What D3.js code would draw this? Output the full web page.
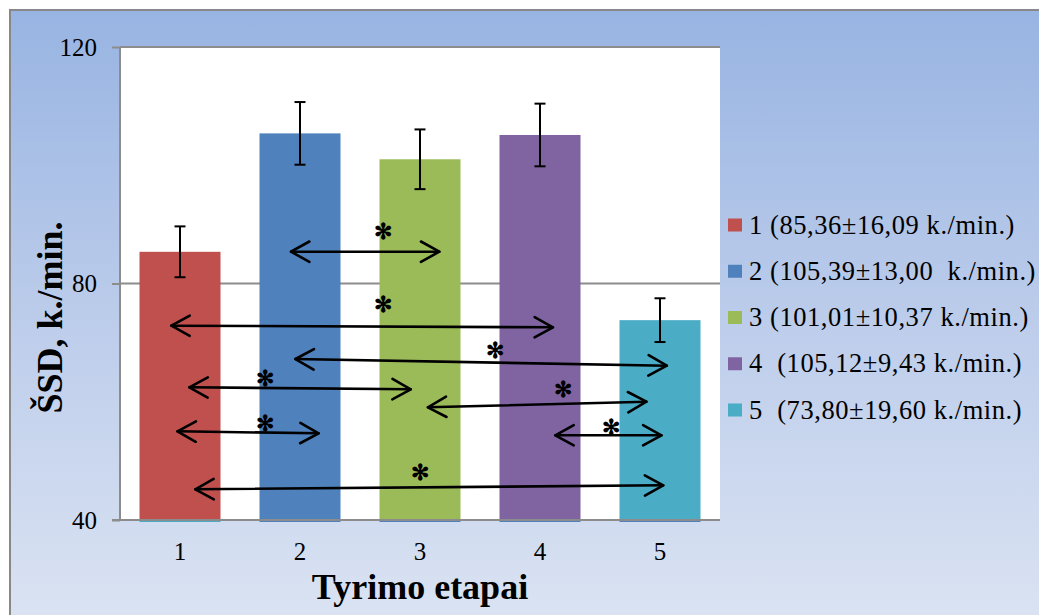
<!DOCTYPE html>
<html>
<head>
<meta charset="utf-8">
<script src="https://cdn.jsdelivr.net/npm/d3@7"></script>
<style>
  html, body { margin: 0; padding: 0; background: #ffffff; }
  svg { display: block; }
  text { font-family: "Liberation Serif", "Times New Roman", serif; white-space: pre; }
</style>
</head>
<body>
<svg id="chart" width="1039" height="615"></svg>
<script>
// ---- data ----
const categories = ["1", "2", "3", "4", "5"];
const values = [85.36, 105.39, 101.01, 105.12, 73.80];
const errors = [4.3, 5.3, 5.05, 5.3, 3.7];
const legendLabels = [
  "1 (85,36±16,09 k./min.)",
  "2 (105,39±13,00  k./min.)",
  "3 (101,01±10,37 k./min.)",
  "4  (105,12±9,43 k./min.)",
  "5  (73,80±19,60 k./min.)"
];
const yTicks = [40, 80, 120];
const yTitle = "ŠSD, k./min.";
const xTitle = "Tyrimo etapai";
// significance arrows: [x1 (category units), y1 (value), x2, y2]
const arrows = [
  [1.925, 85.38, 3.161, 85.38],
  [0.928, 72.86, 4.108, 72.59],
  [1.962, 67.23, 5.057, 66.10],
  [1.078, 62.44, 2.923, 62.11],
  [3.066, 59.06, 4.887, 60.01],
  [0.979, 55.00, 2.155, 54.66],
  [4.128, 54.33, 5.012, 54.33],
  [1.128, 45.19, 5.027, 45.87]
];
// asterisk marks: [x (category units), y (value)]
const stars = [
  [2.688, 88.93],
  [2.693, 76.53],
  [3.625, 68.75],
  [1.708, 63.97],
  [4.193, 62.11],
  [1.708, 56.36],
  [4.589, 55.68],
  [3.000, 48.17]
];
const colors = ["#c0504d", "#4f81bd", "#9bbb59", "#8064a2", "#4bacc6"];
const baseStripColors = ["#4bacc6", "#4f81bd", "#4f81bd", "#4f81bd", "#4f81bd"];

// ---- layout ----
const svg = d3.select("#chart");
const W = 1039, H = 615;
const plot = { left: 120, right: 720, top: 47, bottom: 520 };
const gridColor = "#8c8c8c";
const serif = "Liberation Serif, Times New Roman, serif";

// background frame with gradient
const defs = svg.append("defs");
const grad = defs.append("linearGradient").attr("id", "bg").attr("x1", 0).attr("y1", 0).attr("x2", 0).attr("y2", 1);
grad.append("stop").attr("offset", "0%").attr("stop-color", "#98b4e2");
grad.append("stop").attr("offset", "50%").attr("stop-color", "#bdcdeb");
grad.append("stop").attr("offset", "100%").attr("stop-color", "#dde5f3");

svg.append("rect").attr("x", 10).attr("y", 10).attr("width", W + 20).attr("height", H + 20)
  .attr("fill", "url(#bg)").attr("stroke", "#888888").attr("stroke-width", 2);

// scales
const x = d3.scaleBand().domain(categories).range([plot.left, plot.right])
  .paddingInner(0.325).paddingOuter(0.1625);
const y = d3.scaleLinear().domain([40, 120]).range([plot.bottom, plot.top]);
const xc = d3.scaleLinear().domain([1, 5])
  .range([x("1") + x.bandwidth() / 2, x("5") + x.bandwidth() / 2]);

// plot area
svg.append("rect").attr("x", plot.left).attr("y", plot.top)
  .attr("width", plot.right - plot.left).attr("height", plot.bottom - plot.top)
  .attr("fill", "#ffffff");

// gridlines
svg.append("g").selectAll("line").data(yTicks.filter(d => d !== 40)).join("line")
  .attr("x1", plot.left).attr("x2", plot.right)
  .attr("y1", d => y(d)).attr("y2", d => y(d))
  .attr("stroke", gridColor).attr("stroke-width", 2);

// y axis
const yAxis = d3.axisLeft(y).tickValues(yTicks).tickSize(8).tickPadding(14).tickFormat(d3.format("d"));
const gy = svg.append("g").attr("transform", `translate(${plot.left},0)`).call(yAxis)
  .attr("font-family", serif);
gy.select(".domain").attr("stroke", gridColor).attr("stroke-width", 2).attr("d", `M0,${plot.top}V${plot.bottom}`);
gy.selectAll(".tick line").attr("stroke", gridColor).attr("stroke-width", 2);
gy.selectAll(".tick text").attr("font-family", serif)
  .attr("font-size", 25).attr("fill", "#000").attr("dy", "0.33em").attr("x", -23);

// bars
svg.append("g").selectAll("rect").data(values).join("rect")
  .attr("x", (d, i) => x(categories[i]))
  .attr("y", d => y(d))
  .attr("width", x.bandwidth())
  .attr("height", d => y(40) - y(d))
  .attr("fill", (d, i) => colors[i]);
// thin strip under bars
svg.append("g").selectAll("rect").data(values).join("rect")
  .attr("x", (d, i) => x(categories[i]))
  .attr("y", y(40) - 0.5)
  .attr("width", x.bandwidth())
  .attr("height", 2.5)
  .attr("fill", (d, i) => baseStripColors[i]);

// x axis
const xAxis = d3.axisBottom(x).tickSize(0).tickPadding(22);
const gx = svg.append("g").attr("transform", `translate(0,${plot.bottom})`).call(xAxis)
  .attr("font-family", serif);
gx.select(".domain").attr("stroke", gridColor).attr("stroke-width", 2).attr("d", `M${plot.left - 8},0H${plot.right}`);
gx.selectAll(".tick text").attr("font-family", serif)
  .attr("font-size", 25).attr("fill", "#000");

// error bars
const eg = svg.append("g").attr("stroke", "#000").attr("stroke-width", 2);
values.forEach((v, i) => {
  const cx = x(categories[i]) + x.bandwidth() / 2;
  const t = y(v + errors[i]), b = y(v - errors[i]);
  eg.append("line").attr("x1", cx).attr("x2", cx).attr("y1", t).attr("y2", b);
  eg.append("line").attr("x1", cx - 5.5).attr("x2", cx + 5.5).attr("y1", t).attr("y2", t);
  eg.append("line").attr("x1", cx - 5.5).attr("x2", cx + 5.5).attr("y1", b).attr("y2", b);
});

// arrows
const ag = svg.append("g").attr("stroke", "#000").attr("stroke-width", 2.6)
  .attr("fill", "none").attr("stroke-linecap", "round").attr("stroke-linejoin", "round");
const headLen = 21, headAng = 29 * Math.PI / 180;
arrows.forEach(a => {
  const x1 = xc(a[0]), y1 = y(a[1]), x2 = xc(a[2]), y2 = y(a[3]);
  ag.append("line").attr("x1", x1).attr("y1", y1).attr("x2", x2).attr("y2", y2);
  const ang = Math.atan2(y2 - y1, x2 - x1);
  const head = (tx, ty, dir) => {
    const p1 = [tx + dir * headLen * Math.cos(ang - headAng), ty + dir * headLen * Math.sin(ang - headAng)];
    const p2 = [tx + dir * headLen * Math.cos(ang + headAng), ty + dir * headLen * Math.sin(ang + headAng)];
    ag.append("path").attr("d", `M${p1[0]},${p1[1]}L${tx},${ty}L${p2[0]},${p2[1]}`);
  };
  head(x1, y1, 1);
  head(x2, y2, -1);
});

// asterisks (six teardrop spokes, as in the reference)
const starSize = 22;
svg.append("g").selectAll("text").data(stars).join("text")
  .attr("x", d => xc(d[0]))
  .attr("y", d => y(d[1]) + 0.36 * starSize)
  .attr("text-anchor", "middle")
  .style("font-family", "DejaVu Serif")
  .attr("font-weight", "bold")
  .attr("font-size", starSize)
  .attr("fill", "#000")
  .text("✻");

// axis titles
svg.append("text")
  .attr("transform", `translate(62,${(plot.top + plot.bottom) / 2 + 34}) rotate(-90)`)
  .attr("text-anchor", "middle").attr("font-size", 36).attr("font-weight", "bold")
  .attr("fill", "#000").text(yTitle);
svg.append("text")
  .attr("x", (plot.left + plot.right) / 2).attr("y", 599)
  .attr("text-anchor", "middle").attr("font-size", 36).attr("font-weight", "bold")
  .attr("fill", "#000").text(xTitle);

// legend
const lg = svg.append("g");
const legY = d3.scaleLinear().domain([0, legendLabels.length - 1]).range([233.5, 418.5]);
const items = lg.selectAll("g").data(legendLabels).join("g")
  .attr("transform", (d, i) => `translate(728,${legY(i)})`);
items.append("rect").attr("x", 0).attr("y", -15).attr("width", 14).attr("height", 13)
  .attr("fill", (d, i) => colors[i]);
const texts = items.append("text").attr("x", 21).attr("y", 0)
  .attr("font-size", 26.5).attr("fill", "#000").text(d => d);
// match the reference's width of the legend text
const natural = texts.nodes()[0].getComputedTextLength();
const target = 266;
const ls = Math.max(0, (target - natural) / legendLabels[0].length);
texts.attr("letter-spacing", ls);
</script>
</body>
</html>
